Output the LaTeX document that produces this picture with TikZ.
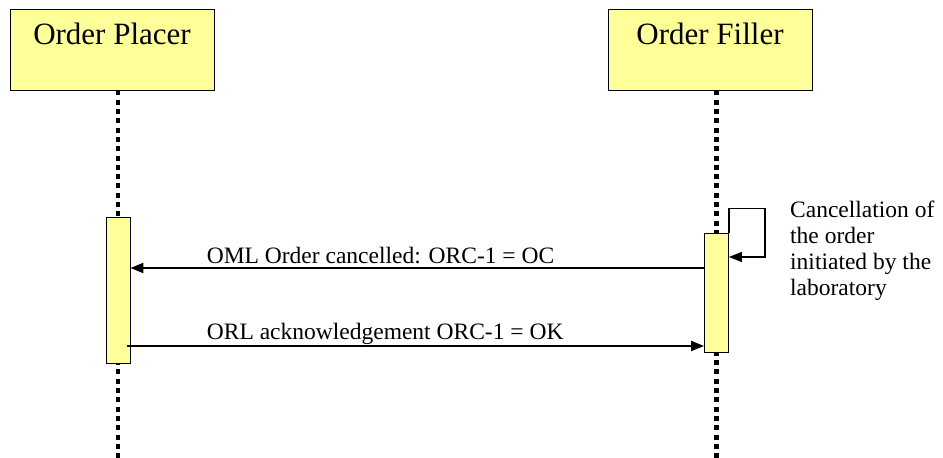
\documentclass[tikz,border=0pt]{standalone}
\usepackage{fontspec}
\setmainfont{Liberation Serif}
\definecolor{boxfill}{rgb}{1.00, 1.00, 0.60}
\usepackage{tikz}
\usetikzlibrary{positioning, arrows.meta}

\begin{document}
\begin{tikzpicture}[x=1pt, y=-1pt,
        actor/.style={draw, fill=boxfill, line width=0.8pt,
                      minimum width=204pt, minimum height=81pt},
        activation/.style={draw, fill=boxfill, line width=0.8pt,
                      minimum width=24pt, inner sep=0pt},
        lifeline/.style={line width=4.5pt, dash pattern=on 5pt off 4.3pt},
        msg/.style={line width=2pt, -{Triangle[length=13pt, width=10pt]}},
        txt/.style={font=\fontsize{23.5}{25.7}\selectfont, inner sep=0pt}]
    \useasboundingbox (0,0) rectangle (943,458);

    % the two actors
    \node [actor] (placer) at (112,49.5) {};
    \node [actor] (filler) at (710,49.5) {};
    \node [txt, anchor=base, font=\fontsize{31}{34}\selectfont]
        at ([yshift=-36pt]placer.north) {Order Placer};
    \node [txt, anchor=base, font=\fontsize{31}{34}\selectfont]
        at ([yshift=-36pt]filler.north) {Order Filler};

    % lifelines
    \coordinate (pline) at ([xshift=6pt]placer.south);
    \coordinate (fline) at ([xshift=6.5pt]filler.south);
    \draw [lifeline] (pline) -- (pline |- 0,458);
    \draw [lifeline] (fline) -- (fline |- 0,458);

    % activations
    \node [activation, minimum height=146pt] (pact) at (118,290) {};
    \node [activation, minimum height=119pt] (fact) at (716.5,292.5) {};

    % self message
    \draw [msg, line width=1.2pt] (fact.north east) -- ++(0,-24) -- ++(36,0)
        |- (fact.north east |- 0,257);
    \node [txt, anchor=base west, align=left] (note) at (790,295)
        {Cancellation of\\the order\\initiated by the\\laboratory};

    % messages
    \draw [msg] (fact.west |- 0,268) -- (pact.east |- 0,268)
        node [txt, pos=0.564, anchor=base, yshift=5pt] {OML Order cancelled: ORC-1 = OC};
    \draw [msg] ([xshift=-3pt]pact.east |- 0,346) -- (fact.west |- 0,346)
        node [txt, pos=0.447, anchor=base, yshift=7pt] {ORL acknowledgement ORC-1 = OK};
\end{tikzpicture}
\end{document}
